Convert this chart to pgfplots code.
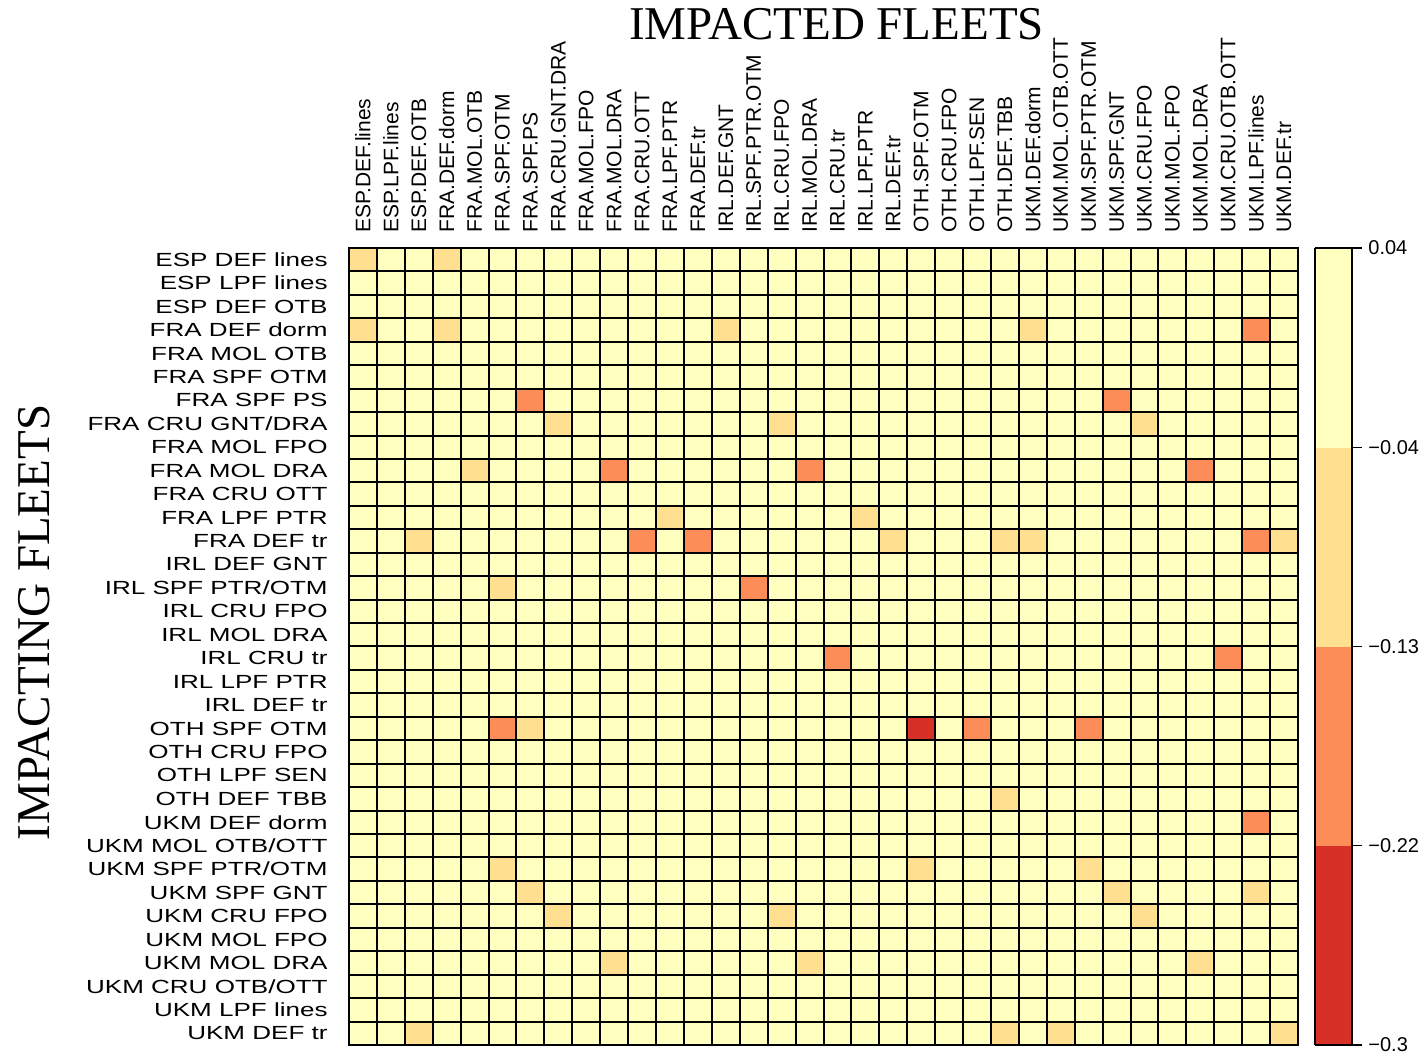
\documentclass[border=0pt]{standalone}
\usepackage{fontspec}
\setmainfont{Liberation Serif}
\setsansfont{Liberation Sans}
\newfontfamily\rowfont[FakeStretch=1.37]{Liberation Sans}
\newfontfamily\colfont{Liberation Sans}
\usepackage{pgfplots}
\usepackage{pgfplotstable}
\pgfplotsset{compat=1.18}
% rows = impacting fleets (top to bottom), columns = impacted fleets (left to right)
\pgfplotstableread[header=false]{
-0.08 0 0 -0.08 0 0 0 0 0 0  0 0 0 0 0 0 0 0 0 0  0 0 0 0 0 0 0 0 0 0  0 0 0 0
0 0 0 0 0 0 0 0 0 0  0 0 0 0 0 0 0 0 0 0  0 0 0 0 0 0 0 0 0 0  0 0 0 0
0 0 0 0 0 0 0 0 0 0  0 0 0 0 0 0 0 0 0 0  0 0 0 0 0 0 0 0 0 0  0 0 0 0
-0.08 0 0 -0.08 0 0 0 0 0 0  0 0 0 -0.08 0 0 0 0 0 0  0 0 0 0 -0.08 0 0 0 0 0  0 0 -0.17 0
0 0 0 0 0 0 0 0 0 0  0 0 0 0 0 0 0 0 0 0  0 0 0 0 0 0 0 0 0 0  0 0 0 0
0 0 0 0 0 0 0 0 0 0  0 0 0 0 0 0 0 0 0 0  0 0 0 0 0 0 0 0 0 0  0 0 0 0
0 0 0 0 0 0 -0.17 0 0 0  0 0 0 0 0 0 0 0 0 0  0 0 0 0 0 0 0 -0.17 0 0  0 0 0 0
0 0 0 0 0 0 0 -0.08 0 0  0 0 0 0 0 -0.08 0 0 0 0  0 0 0 0 0 0 0 0 -0.08 0  0 0 0 0
0 0 0 0 0 0 0 0 0 0  0 0 0 0 0 0 0 0 0 0  0 0 0 0 0 0 0 0 0 0  0 0 0 0
0 0 0 0 -0.08 0 0 0 0 -0.17  0 0 0 0 0 0 -0.17 0 0 0  0 0 0 0 0 0 0 0 0 0  -0.17 0 0 0
0 0 0 0 0 0 0 0 0 0  0 0 0 0 0 0 0 0 0 0  0 0 0 0 0 0 0 0 0 0  0 0 0 0
0 0 0 0 0 0 0 0 0 0  0 -0.08 0 0 0 0 0 0 -0.08 0  0 0 0 0 0 0 0 0 0 0  0 0 0 0
0 0 -0.08 0 0 0 0 0 0 0  -0.17 0 -0.17 0 0 0 0 0 0 -0.08  0 0 0 -0.08 -0.08 0 0 0 0 0  0 0 -0.17 -0.08
0 0 0 0 0 0 0 0 0 0  0 0 0 0 0 0 0 0 0 0  0 0 0 0 0 0 0 0 0 0  0 0 0 0
0 0 0 0 0 -0.08 0 0 0 0  0 0 0 0 -0.17 0 0 0 0 0  0 0 0 0 0 0 0 0 0 0  0 0 0 0
0 0 0 0 0 0 0 0 0 0  0 0 0 0 0 0 0 0 0 0  0 0 0 0 0 0 0 0 0 0  0 0 0 0
0 0 0 0 0 0 0 0 0 0  0 0 0 0 0 0 0 0 0 0  0 0 0 0 0 0 0 0 0 0  0 0 0 0
0 0 0 0 0 0 0 0 0 0  0 0 0 0 0 0 0 -0.17 0 0  0 0 0 0 0 0 0 0 0 0  0 -0.17 0 0
0 0 0 0 0 0 0 0 0 0  0 0 0 0 0 0 0 0 0 0  0 0 0 0 0 0 0 0 0 0  0 0 0 0
0 0 0 0 0 0 0 0 0 0  0 0 0 0 0 0 0 0 0 0  0 0 0 0 0 0 0 0 0 0  0 0 0 0
0 0 0 0 0 -0.17 -0.08 0 0 0  0 0 0 0 0 0 0 0 0 0  -0.27 0 -0.17 0 0 0 -0.17 0 0 0  0 0 0 0
0 0 0 0 0 0 0 0 0 0  0 0 0 0 0 0 0 0 0 0  0 0 0 0 0 0 0 0 0 0  0 0 0 0
0 0 0 0 0 0 0 0 0 0  0 0 0 0 0 0 0 0 0 0  0 0 0 0 0 0 0 0 0 0  0 0 0 0
0 0 0 0 0 0 0 0 0 0  0 0 0 0 0 0 0 0 0 0  0 0 0 -0.08 0 0 0 0 0 0  0 0 0 0
0 0 0 0 0 0 0 0 0 0  0 0 0 0 0 0 0 0 0 0  0 0 0 0 0 0 0 0 0 0  0 0 -0.17 0
0 0 0 0 0 0 0 0 0 0  0 0 0 0 0 0 0 0 0 0  0 0 0 0 0 0 0 0 0 0  0 0 0 0
0 0 0 0 0 -0.08 0 0 0 0  0 0 0 0 0 0 0 0 0 0  -0.08 0 0 0 0 0 -0.08 0 0 0  0 0 0 0
0 0 0 0 0 0 -0.08 0 0 0  0 0 0 0 0 0 0 0 0 0  0 0 0 0 0 0 0 -0.08 0 0  0 0 -0.08 0
0 0 0 0 0 0 0 -0.08 0 0  0 0 0 0 0 -0.08 0 0 0 0  0 0 0 0 0 0 0 0 -0.08 0  0 0 0 0
0 0 0 0 0 0 0 0 0 0  0 0 0 0 0 0 0 0 0 0  0 0 0 0 0 0 0 0 0 0  0 0 0 0
0 0 0 0 0 0 0 0 0 -0.08  0 0 0 0 0 0 -0.08 0 0 0  0 0 0 0 0 0 0 0 0 0  -0.08 0 0 0
0 0 0 0 0 0 0 0 0 0  0 0 0 0 0 0 0 0 0 0  0 0 0 0 0 0 0 0 0 0  0 0 0 0
0 0 0 0 0 0 0 0 0 0  0 0 0 0 0 0 0 0 0 0  0 0 0 0 0 0 0 0 0 0  0 0 0 0
0 0 -0.08 0 0 0 0 0 0 0  0 0 0 0 0 0 0 0 0 0  0 0 0 -0.08 0 -0.08 0 0 0 0  0 0 0 -0.08
}\fleetmat
% turn the matrix into (column,row) [value] coordinates
\gdef\cellcoords{}
\foreach \k in {0,...,33}{%
  \pgfmathtruncatemacro\rr{33-\k}%
  \foreach \c in {0,...,33}{%
    \pgfplotstablegetelem{\rr}{[index]\c}\of\fleetmat
    \xdef\cellcoords{\cellcoords (\c,\k) [\pgfplotsretval]}%
  }%
}
\edef\plotfleet{\noexpand\addplot[matrix plot*, mesh/cols=34, point meta=explicit] coordinates {\cellcoords};}
\begin{document}
\begin{tikzpicture}
\begin{axis}[
  scale only axis,
  width=474.5bp, height=398.5bp,
  xmin=-0.5, xmax=33.5, ymin=-0.5, ymax=33.5,
  clip=false,
  axis on top,
  axis line style={draw=black, line width=1bp},
  xtick={0,...,33}, ytick={0,...,33},
  minor xtick={-0.5,0.5,...,33.5}, minor ytick={-0.5,0.5,...,33.5},
  xminorgrids, yminorgrids,
  minor grid style={draw=black, line width=1bp},
  major tick length=0pt, minor tick length=0pt,
  xticklabel pos=upper,
  xticklabels={ESP.DEF.lines, ESP.LPF.lines, ESP.DEF.OTB, FRA.DEF.dorm, FRA.MOL.OTB, FRA.SPF.OTM, FRA.SPF.PS, FRA.CRU.GNT.DRA, FRA.MOL.FPO, FRA.MOL.DRA, FRA.CRU.OTT, FRA.LPF.PTR, FRA.DEF.tr, IRL.DEF.GNT, IRL.SPF.PTR.OTM, IRL.CRU.FPO, IRL.MOL.DRA, IRL.CRU.tr, IRL.LPF.PTR, IRL.DEF.tr, OTH.SPF.OTM, OTH.CRU.FPO, OTH.LPF.SEN, OTH.DEF.TBB, UKM.DEF.dorm, UKM.MOL.OTB.OTT, UKM.SPF.PTR.OTM, UKM.SPF.GNT, UKM.CRU.FPO, UKM.MOL.FPO, UKM.MOL.DRA, UKM.CRU.OTB.OTT, UKM.LPF.lines, UKM.DEF.tr},
  yticklabels={UKM DEF tr, UKM LPF lines, UKM CRU OTB/OTT, UKM MOL DRA, UKM MOL FPO, UKM CRU FPO, UKM SPF GNT, UKM SPF PTR/OTM, UKM MOL OTB/OTT, UKM DEF dorm, OTH DEF TBB, OTH LPF SEN, OTH CRU FPO, OTH SPF OTM, IRL DEF tr, IRL LPF PTR, IRL CRU tr, IRL MOL DRA, IRL CRU FPO, IRL SPF PTR/OTM, IRL DEF GNT, FRA DEF tr, FRA LPF PTR, FRA CRU OTT, FRA MOL DRA, FRA MOL FPO, FRA CRU GNT/DRA, FRA SPF PS, FRA SPF OTM, FRA MOL OTB, FRA DEF dorm, ESP DEF OTB, ESP LPF lines, ESP DEF lines},
  xticklabel style={rotate=90, anchor=west, inner sep=0pt, font=\colfont\fontsize{10.5bp}{12bp}\selectfont},
  xticklabel shift=7.5bp,
  yticklabel style={anchor=east, inner sep=0pt, font=\rowfont\fontsize{9.5bp}{11bp}\selectfont},
  yticklabel shift=10.5bp,
  colormap={fleet}{rgb255=(215,48,39) rgb255=(252,141,89) rgb255=(254,224,144) rgb255=(255,255,191)},
  colormap access=piecewise constant,
  point meta min=-0.3, point meta max=0.04,
  colorbar,
  colorbar style={
    at={(parent axis.north east)}, anchor=north west,
    width=18.5bp,
    ytick={-0.3,-0.215,-0.13,-0.045,0.04},
    yticklabels={−0.3,−0.22,−0.13,−0.04,0.04},
    ytick pos=right, yticklabel pos=right,
    tick align=outside,
    major tick length=5bp,
    ytick style={draw=black, line width=0.6bp},
    yticklabel style={font=\sffamily\fontsize{10bp}{12bp}\selectfont, inner sep=0pt, anchor=west},
    yticklabel shift=3bp,
    axis line style={draw=black, line width=0.8bp},
  },
]
\plotfleet
\node[anchor=base, font=\fontsize{23.5bp}{28bp}\selectfont] at ([yshift=104.25bp]rel axis cs:0.5137,1) {IMPACTED FLEETS};
\node[xshift=-149.5bp, rotate=90, anchor=base, font=\fontsize{23.5bp}{28bp}\selectfont] at (rel axis cs:0,0.530) {IMPACTING FLEETS};
\path ([xshift=-174.5bp, yshift=-8bp]rel axis cs:0,0) rectangle ([xshift=64.5bp, yshift=124bp]rel axis cs:1,1);
\end{axis}
\end{tikzpicture}
\end{document}
